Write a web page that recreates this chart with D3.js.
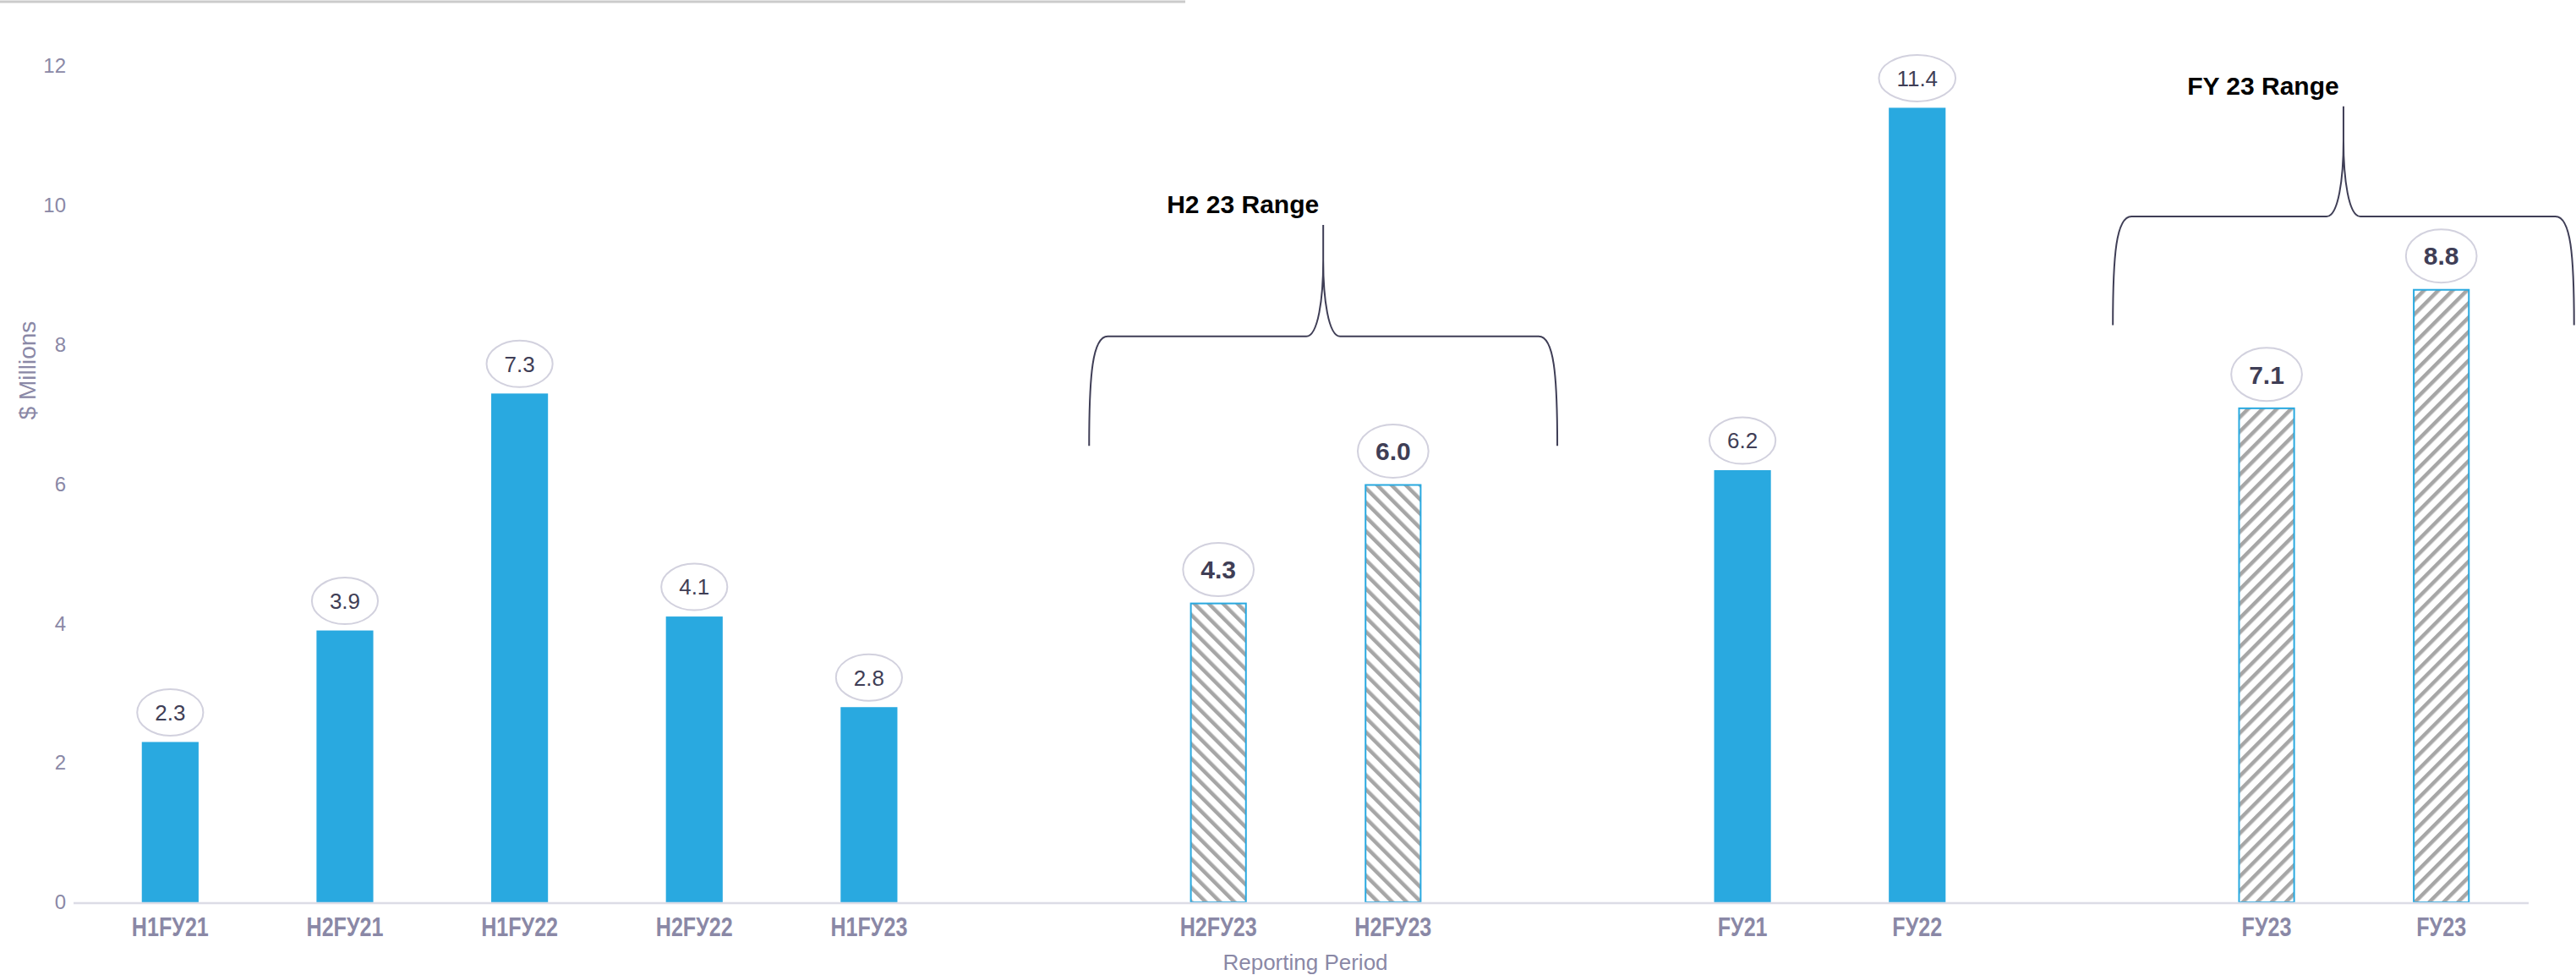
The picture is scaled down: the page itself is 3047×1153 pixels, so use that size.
<!DOCTYPE html>
<html>
<head>
<meta charset="utf-8">
<script src="https://cdn.jsdelivr.net/npm/d3@7"></script>
<style>
  html, body { margin: 0; padding: 0; background: #ffffff; }
  svg { display: block; }
</style>
</head>
<body>
<svg id="chart" width="3047" height="1153"></svg>
<script>
// Reporting periods, one slot per column; null slots separate the groups.
const periods = ["H1FУ21", "H2FУ21", "H1FУ22", "H2FУ22", "H1FУ23", null,
                 "H2FУ23", "H2FУ23", null, "FУ21", "FУ22", null, "FУ23", "FУ23"];
// Values in $ millions, aligned with periods.
const values = [2.3, 3.9, 7.3, 4.1, 2.8, null, 4.3, 6.0, null, 6.2, 11.4, null, 7.1, 8.8];
// Bar style per slot: "solid" actuals, "down"/"up" hatched range bars.
const styles = ["solid", "solid", "solid", "solid", "solid", null,
                "down", "down", null, "solid", "solid", null, "up", "up"];
const yTicks = [0, 2, 4, 6, 8, 10, 12];
// Range annotations: label and the two slots each brace covers.
const rangeLabels = ["H2 23 Range", "FY 23 Range"];
const rangeSlots = [[6, 7], [12, 13]];

const W = 3047, H = 1153;
const svg = d3.select("#chart");
const blue = "#29a9e0";
const axisText = "#8a88a6";
const valueText = "#3f3e56";

// top rule
svg.append("rect").attr("x", 0).attr("y", 0.5).attr("width", 1402).attr("height", 3).attr("fill", "#cbcbcb");

const x = d3.scaleBand()
  .domain(d3.range(periods.length))
  .range([98, 2991])
  .paddingInner(0.675)
  .paddingOuter(0.3375);
const y = d3.scaleLinear().domain([0, 12]).range([1067, 78]);

// hatch patterns
const defs = svg.append("defs");
[["down", -45], ["up", 45]].forEach(([id, ang]) => {
  const p = defs.append("pattern")
    .attr("id", "hatch-" + id)
    .attr("patternUnits", "userSpaceOnUse")
    .attr("width", 12).attr("height", 12)
    .attr("patternTransform", `rotate(${ang})`);
  p.append("rect").attr("width", 12).attr("height", 12).attr("fill", "#ffffff");
  p.append("rect").attr("x", 0).attr("width", 4.5).attr("height", 12).attr("fill", "#a6a6a6");
});

// y axis
const yAxis = svg.append("g")
  .attr("transform", "translate(87,0)")
  .call(d3.axisLeft(y).tickValues(yTicks).tickSize(0).tickPadding(9));
yAxis.select(".domain").remove();
yAxis.selectAll("text")
  .attr("fill", axisText)
  .attr("font-family", "Liberation Sans, Arial, sans-serif")
  .attr("font-size", 24);

svg.append("text")
  .attr("transform", "translate(42,438) rotate(-90)")
  .attr("text-anchor", "middle")
  .attr("fill", axisText)
  .attr("font-family", "Liberation Sans, Arial, sans-serif")
  .attr("font-size", 28)
  .text("$ Millions");

// bars
const slots = d3.range(periods.length).filter(i => values[i] != null);
const bars = svg.append("g");
bars.selectAll("rect")
  .data(slots)
  .join("rect")
  .attr("x", i => styles[i] === "solid" ? x(i) : x(i) + 1)
  .attr("y", i => styles[i] === "solid" ? y(values[i]) : y(values[i]) + 1)
  .attr("width", i => styles[i] === "solid" ? x.bandwidth() : x.bandwidth() - 2)
  .attr("height", i => styles[i] === "solid" ? y(0) - y(values[i]) : y(0) - y(values[i]) - 1)
  .attr("fill", i => styles[i] === "solid" ? blue : `url(#hatch-${styles[i]})`)
  .attr("stroke", i => styles[i] === "solid" ? "none" : blue)
  .attr("stroke-width", 2);

// x axis
const xAxis = svg.append("g")
  .attr("transform", `translate(0,${y(0)})`)
  .call(d3.axisBottom(x).tickSize(0).tickFormat(i => periods[i] || ""));
xAxis.select(".domain").remove();
xAxis.selectAll(".tick").filter(i => periods[i] == null).remove();
xAxis.selectAll(".tick text")
  .attr("y", 0).attr("dy", 0)
  .attr("transform", "translate(0,40) scale(0.81,1)")
  .attr("fill", axisText)
  .attr("font-family", "Liberation Sans Narrow, Arial Narrow, sans-serif")
  .attr("font-weight", "bold")
  .attr("font-size", 31);
svg.append("line")
  .attr("x1", 87).attr("x2", 2991)
  .attr("y1", y(0) + 1).attr("y2", y(0) + 1)
  .attr("stroke", "#dcdce6").attr("stroke-width", 2.5);

svg.append("text")
  .attr("x", 1544).attr("y", 1147)
  .attr("text-anchor", "middle")
  .attr("fill", axisText)
  .attr("font-family", "Liberation Sans, Arial, sans-serif")
  .attr("font-size", 26)
  .text("Reporting Period");

// value bubbles
const labels = svg.append("g");
slots.forEach(i => {
  const bold = styles[i] !== "solid";
  const fs = bold ? 30 : 26;
  const ry = bold ? 31.5 : 27.5;
  const cx = x(i) + x.bandwidth() / 2;
  const cy = y(values[i]) - ry - 7.5;
  const g = labels.append("g");
  const ell = g.append("ellipse")
    .attr("cx", cx).attr("cy", cy).attr("ry", ry)
    .attr("fill", "#ffffff").attr("stroke", "#d2d1de").attr("stroke-width", 2);
  const t = g.append("text")
    .attr("x", cx).attr("y", cy + fs * 0.358)
    .attr("text-anchor", "middle")
    .attr("fill", valueText)
    .attr("font-family", "Liberation Sans, Arial, sans-serif")
    .attr("font-weight", bold ? "bold" : "normal")
    .attr("font-size", fs)
    .text(values[i].toFixed(1));
  ell.attr("rx", t.node().getComputedTextLength() / 2 + 21);
});

// range braces: feet, crossbar and tip heights in value units
const braceLevels = [[6.55, 8.12, 9.72], [8.28, 9.84, 11.42]];
const braceReach = [[0.74, 0.94], [0.88, 0.76]];
rangeSlots.forEach(([a, b], k) => {
  const step = x.step();
  const ca = x(a) + x.bandwidth() / 2, cb = x(b) + x.bandwidth() / 2;
  const L = ca - braceReach[k][0] * step;
  const R = cb + braceReach[k][1] * step;
  const M = (L + R) / 2;
  const [vb, vh, vt] = braceLevels[k];
  const yb = y(vb), yh = y(vh), yt = y(vt);
  const p = d3.path();
  p.moveTo(L, yb);
  p.bezierCurveTo(L, yh + 45, L + 4, yh, L + 22, yh);
  p.lineTo(M - 20, yh);
  p.bezierCurveTo(M - 6, yh, M, yh - 45, M, yh - 90);
  p.lineTo(M, yt);
  p.moveTo(M, yh - 90);
  p.bezierCurveTo(M, yh - 45, M + 6, yh, M + 20, yh);
  p.lineTo(R - 22, yh);
  p.bezierCurveTo(R - 4, yh, R, yh + 45, R, yb);
  svg.append("path")
    .attr("d", p.toString())
    .attr("fill", "none")
    .attr("stroke", "#3f3e56")
    .attr("stroke-width", 2);
  svg.append("text")
    .attr("x", M - 95).attr("y", yt - 25 + 11)
    .attr("text-anchor", "middle")
    .attr("fill", "#000000")
    .attr("font-family", "Liberation Sans, Arial, sans-serif")
    .attr("font-weight", "bold")
    .attr("font-size", 30)
    .text(rangeLabels[k]);
});
</script>
</body>
</html>
